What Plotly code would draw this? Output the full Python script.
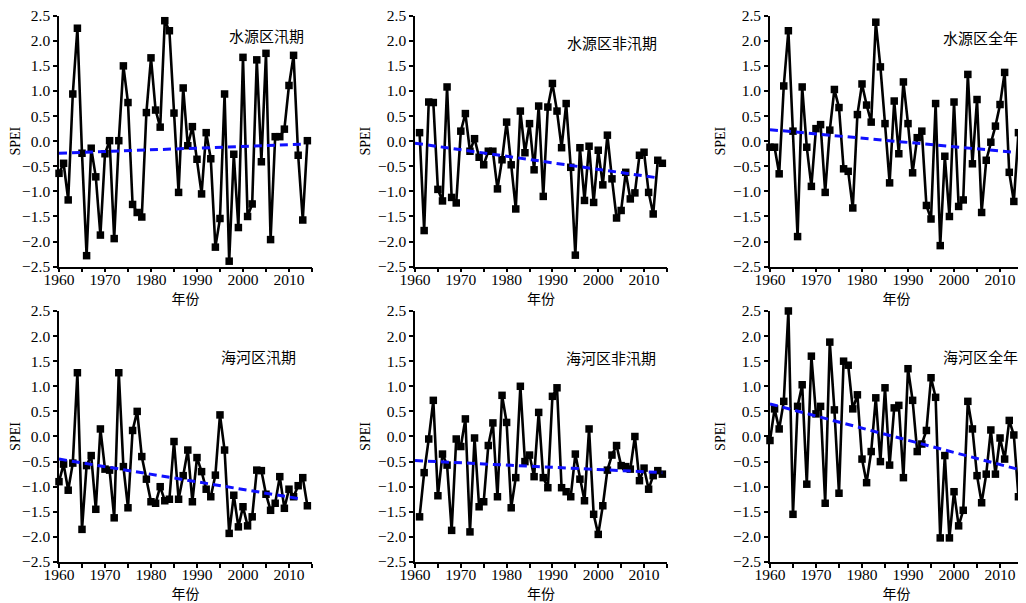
import plotly.graph_objects as go

years_full = list(range(1960, 2015))
years_nf = list(range(1961, 2015))

titles = ["水源区汛期", "水源区非汛期", "水源区全年", "海河区汛期", "海河区非汛期", "海河区全年"]

spei_sy_flood = [-0.64, -0.44, -1.17, 0.94, 2.25, -0.24, -2.28, -0.14, -0.71, -1.87,
                 -0.25, 0.01, -1.94, 0.01, 1.50, 0.77, -1.26, -1.42, -1.51, 0.57,
                 1.66, 0.62, 0.28, 2.40, 2.20, 0.56, -1.02, 1.06, -0.09, 0.29,
                 -0.36, -1.05, 0.17, -0.35, -2.11, -1.54, 0.94, -2.39, -0.26, -1.72,
                 1.67, -1.50, -1.25, 1.62, -0.41, 1.75, -1.96, 0.09, 0.09, 0.24,
                 1.11, 1.71, -0.28, -1.57, 0.01]
spei_sy_nonflood = [0.17, -1.78, 0.78, 0.77, -0.96, -1.19, 1.08, -1.12, -1.23, 0.20,
                    0.55, -0.20, 0.05, -0.32, -0.47, -0.20, -0.20, -0.95, -0.37, 0.38,
                    -0.47, -1.35, 0.60, -0.23, 0.35, -0.57, 0.70, -1.10, 0.68, 1.15,
                    0.60, -0.13, 0.75, -0.52, -2.27, -0.13, -1.18, -0.10, -1.22, -0.18,
                    -0.87, 0.12, -0.75, -1.53, -1.38, -0.62, -1.15, -1.03, -0.28, -0.22,
                    -1.02, -1.45, -0.38, -0.44]
spei_sy_year = [-0.12, -0.12, -0.65, 1.10, 2.20, 0.20, -1.90, 1.08, -0.12, -0.90,
                0.25, 0.33, -1.02, 0.22, 1.03, 0.67, -0.55, -0.60, -1.33, 0.53,
                1.14, 0.72, 0.38, 2.37, 1.48, 0.35, -0.83, 0.80, -0.25, 1.18,
                0.35, -0.63, 0.07, 0.20, -1.28, -1.55, 0.75, -2.08, -0.30, -1.50,
                0.78, -1.30, -1.17, 1.33, -0.45, 0.83, -1.42, -0.38, -0.02, 0.30,
                0.73, 1.37, -0.62, -1.20, 0.17]
spei_hh_flood = [-0.90, -0.55, -1.07, -0.53, 1.27, -1.85, -0.58, -0.38, -1.45, 0.15,
                 -0.65, -0.67, -1.62, 1.27, -0.60, -1.42, 0.12, 0.50, -0.40, -0.85,
                 -1.30, -1.33, -1.00, -1.28, -1.25, -0.10, -1.25, -0.78, -0.27, -1.30,
                 -0.42, -0.70, -1.05, -1.20, -0.77, 0.43, -0.27, -1.93, -1.17, -1.80,
                 -1.40, -1.78, -1.60, -0.67, -0.68, -1.15, -1.47, -1.33, -0.80, -1.43,
                 -1.05, -1.20, -0.98, -0.82, -1.38]
spei_hh_nonflood = [-1.60, -0.72, -0.05, 0.72, -1.18, -0.35, -0.57, -1.87, -0.05, -0.20,
                    0.35, -1.90, -0.03, -1.40, -1.30, -0.18, 0.27, -1.20, 0.82, 0.28,
                    -1.42, -0.82, 1.00, -0.50, -0.37, -0.80, 0.48, -0.82, -1.02, 0.80,
                    0.97, -1.02, -1.10, -1.20, -0.35, -0.85, -1.28, 0.15, -1.55, -1.95,
                    -1.38, -0.67, -0.37, -0.18, -0.58, -0.60, -0.65, 0.00, -0.88, -0.63,
                    -1.05, -0.78, -0.68, -0.75]
spei_hh_year = [-0.08, 0.55, 0.15, 0.70, 2.50, -1.55, 0.60, 1.03, -0.95, 1.60,
                0.45, 0.60, -1.33, 1.88, 0.53, -1.13, 1.50, 1.42, 0.55, 0.83,
                -0.45, -0.92, -0.30, 0.77, -0.50, 0.97, -0.57, 0.57, 0.62, -0.82,
                1.35, 0.72, -0.30, -0.15, 0.12, 1.17, 0.78, -2.02, -0.38, -2.02,
                -1.10, -1.78, -1.47, 0.70, 0.15, -0.78, -1.32, -0.75, 0.13, -0.75,
                -0.03, -0.45, 0.32, 0.03, -1.20]

# trend lines (start year/value, end year/value)
trend_years = [[1960, 2013], [1960, 2013], [1960, 2013], [1960, 2013], [1960, 2014], [1960, 2015]]
trend_vals = [[-0.24, -0.06], [-0.04, -0.73], [0.23, -0.22], [-0.45, -1.25], [-0.48, -0.72], [0.65, -0.68]]

series_x = [years_full, years_nf, years_full, years_full, years_nf, years_full]
series_y = [spei_sy_flood, spei_sy_nonflood, spei_sy_year, spei_hh_flood, spei_hh_nonflood, spei_hh_year]

# page body has an 8px margin, so the figure is 8px smaller and domains are shifted
xdomains = [[0.0501, 0.2986], [0.3998, 0.6473], [0.7485, 0.9971]]
ydomains = [[0.5652, 0.9871], [0.0689, 0.4908]]
label_pos = [(0.976, 0.923), (0.968, 0.895), (0.988, 0.915),
             (0.945, 0.817), (0.964, 0.815), (0.988, 0.82)]

serif = "Liberation Serif, Times New Roman, serif"
cjk = "Noto Sans CJK SC"

fig = go.Figure()
annotations = []
for i in range(6):
    r, c = divmod(i, 3)
    ax = "" if i == 0 else str(i + 1)
    fig.add_trace(go.Scatter(
        x=series_x[i], y=series_y[i], mode="lines+markers",
        line=dict(color="black", width=2.6),
        marker=dict(symbol="square", size=7.5, color="black"),
        cliponaxis=False, showlegend=False,
        xaxis="x" + ax, yaxis="y" + ax))
    fig.add_trace(go.Scatter(
        x=trend_years[i], y=trend_vals[i], mode="lines",
        line=dict(color="#1010ff", width=3, dash="8px,5px"),
        showlegend=False, xaxis="x" + ax, yaxis="y" + ax))
    fig.layout["xaxis" + ax] = dict(
        domain=xdomains[c], anchor="y" + ax, range=[1960, 2015], automargin=False,
        tickmode="linear", tick0=1960, dtick=10, ticklabeloverflow="allow",
        ticks="outside", ticklen=4, tickwidth=1.5, tickcolor="black", ticklabelstandoff=-6,
        minor=dict(tick0=1960, dtick=5, ticks="outside", ticklen=4, tickwidth=1.5, tickcolor="black"),
        showline=True, linecolor="black", linewidth=1.5, showgrid=False, zeroline=False,
        tickfont=dict(family=serif, size=15.5, color="black"),
        title=dict(text="年份", font=dict(family=cjk, size=14, color="black"), standoff=0))
    fig.layout["yaxis" + ax] = dict(
        domain=ydomains[r], anchor="x" + ax, range=[-2.5, 2.5], automargin=False,
        tickmode="linear", tick0=-2.5, dtick=0.5, tickformat=".1f", ticklabeloverflow="allow",
        ticks="outside", ticklen=4, tickwidth=1.5, tickcolor="black",
        showline=True, linecolor="black", linewidth=1.5, showgrid=False, zeroline=False,
        tickfont=dict(family=serif, size=15.5, color="black"),
        title=dict(text="SPEI", font=dict(family=serif, size=14, color="black"), standoff=4))
    lx, ly = label_pos[i]
    annotations.append(dict(
        text=titles[i], xref=("x" + ax) + " domain", yref=("y" + ax) + " domain",
        x=lx, y=ly, xanchor="right", yanchor="middle", showarrow=False,
        font=dict(family=cjk, size=15, color="black")))

fig.update_layout(
    template="none",
    width=1018, height=595,
    margin=dict(l=0, r=0, t=0, b=0),
    paper_bgcolor="white", plot_bgcolor="white",
    annotations=annotations)

fig.write_html("out.html")
